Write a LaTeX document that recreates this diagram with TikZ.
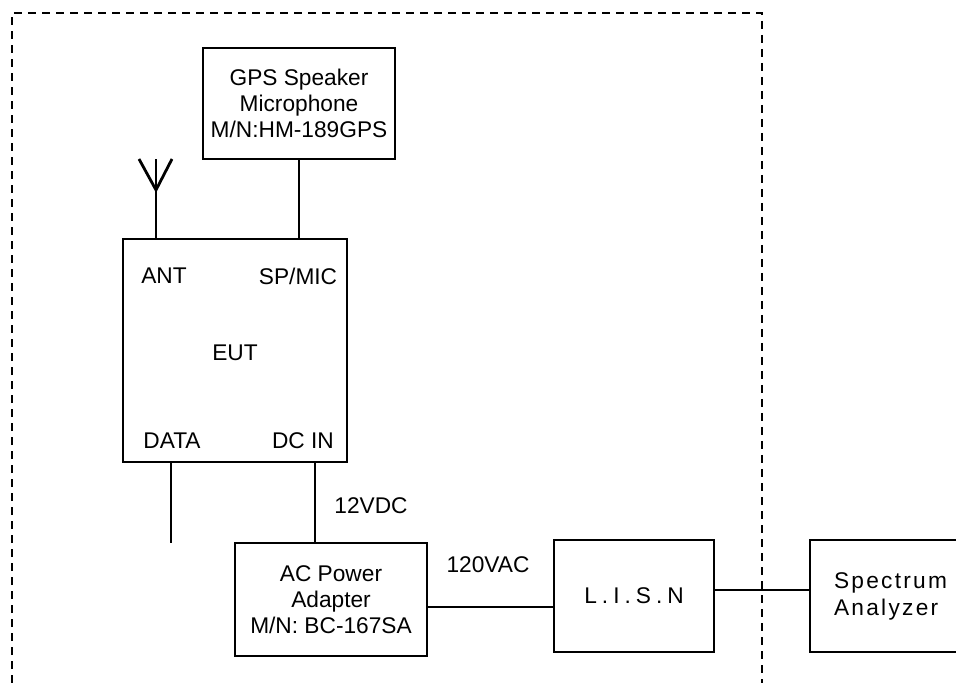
\documentclass[tikz,border=0pt]{standalone}
\usepackage{fontspec}
\setmainfont{Liberation Sans}
\usepackage{tikz}
\usetikzlibrary{positioning}
\tikzset{
  caixa/.style={rectangle,draw=black,line width=1pt,inner sep=0pt,align=center,
    font=\fontsize{11.35}{13}\selectfont},
  rotulo/.style={inner sep=0pt,font=\fontsize{11.35}{13}\selectfont},
  fio/.style={line width=1pt},
  antena/.style={line width=1.4pt},
  tracejado/.style={line width=1pt,dash pattern=on 4pt off 3pt}
}

\begin{document}
\begin{tikzpicture}[x=0.5pt,y=-0.5pt]
\clip (0,0) rectangle (956,683);
% caixas
\node[caixa,minimum width=96pt,minimum height=55.5pt] (gps) at (299,103.5)
  {GPS Speaker\\Microphone\\M/N:HM-189GPS};
\node[caixa,minimum width=112pt,minimum height=111.5pt] (eut) at (235,350.5) {};
\node[caixa,minimum width=96pt,minimum height=56.5pt] (adaptador) at (331,599.5)
  {AC Power\\Adapter\\M/N: BC-167SA};
\node[caixa,minimum width=80pt,minimum height=56pt,
  font=\fontsize{11.35}{13}\selectfont\addfontfeatures{LetterSpace=22}] (lisn) at (634,596) {L.I.S.N};
\node[caixa,anchor=west,minimum height=56pt,text width=84pt,inner xsep=12pt,align=left,
  font=\fontsize{11.35}{13.5}\selectfont\addfontfeatures{LetterSpace=10}] (analisador) at (809,596)
  {Spectrum\\Analyzer};
% rotulos do EUT
\node[rotulo] (ant) at (164,276) {ANT};
\node[rotulo] (spmic) at (298,276) {SP/MIC};
\node[rotulo] (eutrot) at (235,353) {EUT};
\node[rotulo] (dados) at (172,441) {DATA};
\node[rotulo] (dcin) at (303,441) {DC IN};
\node[rotulo] (vdc) at (371,506) {12VDC};
\node[rotulo] (vac) at (488,565) {120VAC};
% antena
\coordinate (antvertice) at (156,190);
\coordinate (antesq) at (139,159);
\coordinate (antdir) at (172,159);
\draw[antena] (antvertice |- eut.north) -- (antvertice |- antesq);
\draw[antena] (antesq) -- (antvertice) -- (antdir);
% ligacoes
\draw[fio] (gps.south) -- (gps.south |- eut.north);
\coordinate (dadosfim) at (171,543);
\draw[fio] (dadosfim |- eut.south) -- (dadosfim);
\draw[fio] ([xshift=-8pt]adaptador.north) -- ([xshift=-8pt]adaptador.north |- eut.south);
\draw[fio] ([yshift=-3.5pt]adaptador.east) -- ([yshift=-3.5pt]adaptador.east -| lisn.west);
\draw[fio] ([yshift=3pt]lisn.east) -- ([yshift=3pt]lisn.east -| analisador.west);
% moldura tracejada
\draw[tracejado] (12,683) -- (12,13) -- (762,13) -- (762,683);
\end{tikzpicture}
\end{document}
